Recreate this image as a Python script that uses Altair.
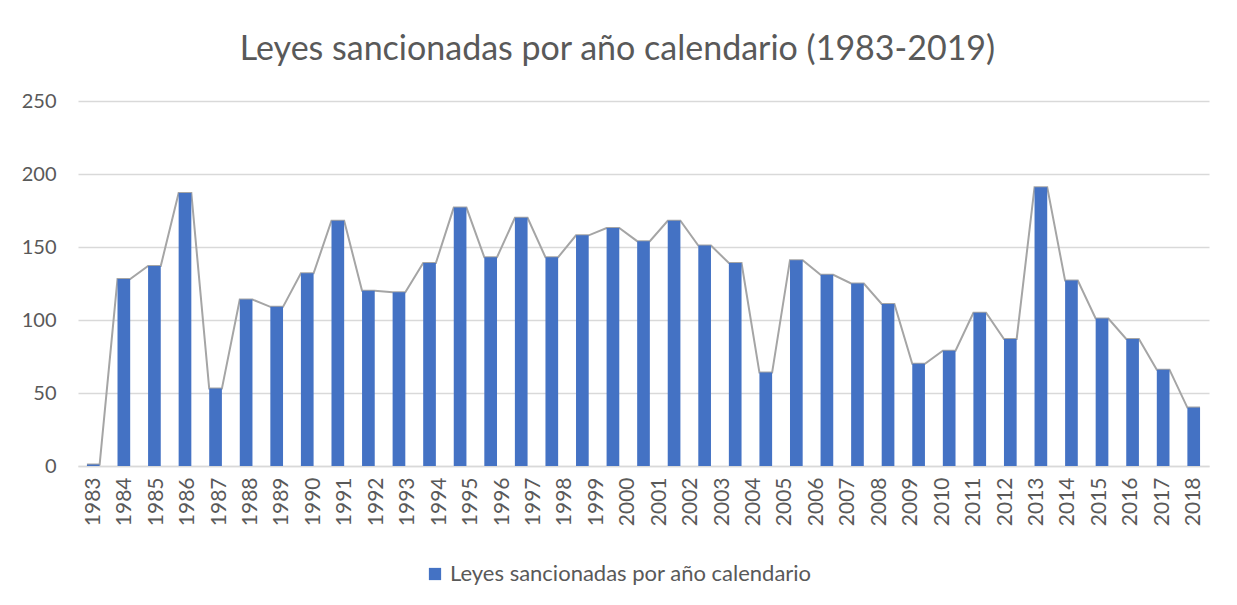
import json
import altair as alt
import pandas as pd

# ---- data ----
years = list(range(1983, 2020))
leyes = [1, 128, 137, 187, 53, 114, 109, 132, 168, 120, 119, 139, 177, 143, 170,
         143, 158, 163, 154, 168, 151, 139, 64, 141, 131, 125, 111, 70, 79, 105,
         87, 191, 127, 101, 87, 66, 40]
tick_labels = [str(y) for y in range(1983, 2019)]
series_name = "Leyes sancionadas por año calendario"
title_text = "Leyes sancionadas por año calendario (1983-2019)"

df = pd.DataFrame({"idx": list(range(len(years))), "year": years, "leyes": leyes,
                   "serie": series_name})

half = 0.2075  # half bar width as fraction of a category step
n_b = len(years)
n_l = len(tick_labels)
tick_vals = [k * (n_b - 1) / (n_l - 1) for k in range(n_l)]
label_expr = f"{json.dumps(tick_labels)}[round(datum.value*{n_l - 1}/{n_b - 1})]"

FONT = "Lato"
GREY_TXT = "#595959"

xscale = alt.Scale(domain=[-0.5, n_b - 0.5], nice=False, zero=False)
yscale = alt.Scale(domain=[0, 250], nice=False)

xaxis = alt.Axis(values=tick_vals, labelExpr=label_expr, title=None,
                 labelAngle=-90, labelAlign="right", labelBaseline="middle",
                 labelFont=FONT, labelFontSize=21, labelColor=GREY_TXT,
                 labelPadding=11, ticks=False, grid=False,
                 domainColor="#D9D9D9", domainWidth=1.5,
                 labelOverlap=False, labelBound=False, labelFlush=False)
yaxis = alt.Axis(values=[0, 50, 100, 150, 200, 250], title=None,
                 labelFont=FONT, labelFontSize=20, labelColor=GREY_TXT,
                 labelPadding=22, ticks=False, domain=False,
                 gridColor="#D9D9D9", gridWidth=1.5)

base = alt.Chart(df)

line = base.transform_calculate(
    pts=f"[datum.idx - {half}, datum.idx + {half}]"
).transform_flatten(["pts"]).mark_line(color="#A5A5A5", strokeWidth=2).encode(
    x=alt.X("pts:Q", scale=xscale, axis=xaxis),
    y=alt.Y("leyes:Q", scale=yscale, axis=yaxis),
    order=alt.Order("pts:Q"),
)

bars = base.transform_calculate(
    x0=f"datum.idx - {half}", x1=f"datum.idx + {half}"
).mark_rect(color="#4472C4").encode(
    x=alt.X("x0:Q", scale=xscale, axis=xaxis),
    x2="x1:Q",
    y=alt.Y("leyes:Q", scale=yscale, axis=yaxis),
    y2=alt.value(365),
    color=alt.Color("serie:N",
                    scale=alt.Scale(domain=[series_name], range=["#4472C4"]),
                    legend=alt.Legend(title=None, orient="none", legendX=346,
                                      legendY=462, symbolType="square",
                                      symbolSize=150, symbolStrokeWidth=0,
                                      labelFont=FONT, labelFontSize=22,
                                      labelColor=GREY_TXT, labelLimit=600)),
)

chart = alt.layer(line, bars).properties(
    width=1131, height=365,
    title=alt.TitleParams(title_text, font=FONT, fontSize=34, fontWeight="normal",
                          color=GREY_TXT, anchor="middle", dx=-26, offset=24),
    autosize=alt.AutoSizeParams(type="none"),
    padding={"left": 70, "top": 93, "right": 20, "bottom": 131},
    background="white",
).configure_view(stroke="transparent", strokeWidth=0)

chart.save("out.html", embed_options={"renderer": "svg", "actions": False})
